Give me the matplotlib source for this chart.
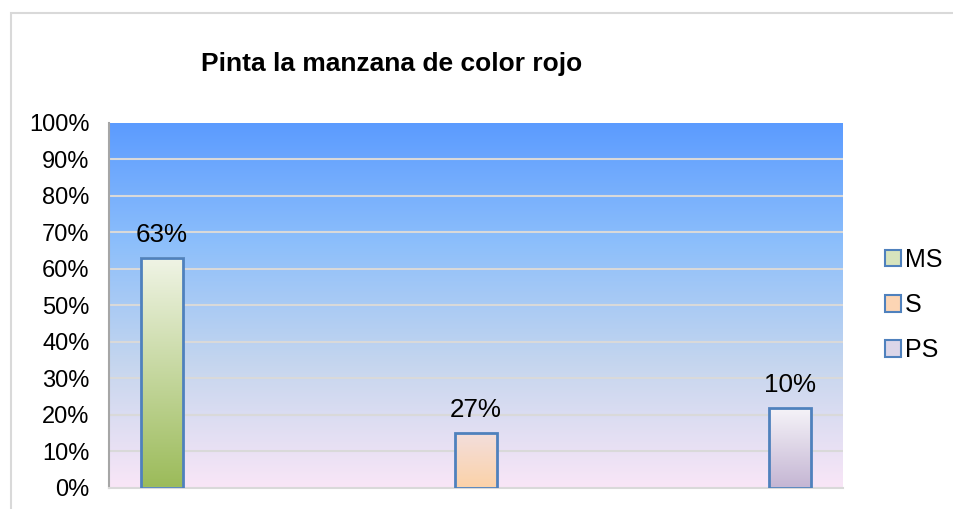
import numpy as np
import matplotlib
matplotlib.use("Agg")
import matplotlib.pyplot as plt
from matplotlib.colors import LinearSegmentedColormap
from matplotlib.patches import Rectangle, Patch

plt.rcParams['font.family'] = ['Liberation Sans', 'DejaVu Sans']

title = "Pinta la manzana de color rojo"
series = ["MS", "S", "PS"]
heights = [0.63, 0.15, 0.22]
labels = ["63%", "27%", "10%"]
ticks = [0, 0.1, 0.2, 0.3, 0.4, 0.5, 0.6, 0.7, 0.8, 0.9, 1.0]

# top -> bottom colours for each bar
bar_colors = [
    ("#F0F4E6", "#9BBB59"),
    ("#F3DEDC", "#FCD2A8"),
    ("#F6F4F9", "#C4B5D3"),
]
legend_colors = ["#D7E4BD", "#FCD5B4", "#DCD6E8"]
EDGE = "#4F81BD"

fig = plt.figure(figsize=(9.54, 5.09), dpi=100)
fig.patches.append(Rectangle((11 / 954, -0.01), 1.0, 1 - 13 / 509 + 0.01,
                             transform=fig.transFigure, fill=False,
                             edgecolor="#D9D9D9", lw=1.5))

ax = fig.add_axes([109 / 954, 1 - 488 / 509, (843 - 109) / 954, (488 - 122.5) / 509])
x = np.arange(len(series))
ax.set_xlim(-0.169, 2.169)
ax.set_ylim(0, 1)

# background gradient
bg = LinearSegmentedColormap.from_list("bg", ["#F9E6F7", "#C6D6EE", "#8DBFFB", "#5B9BFF"])
grad = np.linspace(0, 1, 256).reshape(-1, 1)
ax.imshow(grad, cmap=bg, origin="lower", aspect="auto",
          extent=(-0.169, 2.169, 0, 1), zorder=0)

for t in ticks[1:-1]:
    ax.axhline(t, color="#D9D9D9", lw=1.5, zorder=1)

bars = ax.bar(x, heights, width=0.134, facecolor="none", edgecolor=EDGE, lw=2, zorder=3)
for b, (top, bot) in zip(bars, bar_colors):
    cm = LinearSegmentedColormap.from_list("b", [bot, top])
    ax.imshow(grad, cmap=cm, origin="lower", aspect="auto",
              extent=(b.get_x(), b.get_x() + b.get_width(), 0, b.get_height()), zorder=2)

for b, lab in zip(bars, labels):
    ax.text(b.get_x() + b.get_width() / 2, b.get_height() + 0.03, lab,
            ha="center", va="bottom", fontsize=18.7)

ax.set_yticks(ticks)
ax.set_yticklabels([f"{int(round(t * 100))}%" for t in ticks], fontsize=17)
ax.set_xticks([])
ax.tick_params(axis="y", length=0, pad=14)
for s in ["top", "right"]:
    ax.spines[s].set_visible(False)
ax.spines["left"].set_color("#A6A6A6")
ax.spines["left"].set_linewidth(1.5)
ax.spines["bottom"].set_color("#D9D9D9")
ax.spines["bottom"].set_linewidth(1.5)

fig.text(392 / 954, 1 - 64 / 509, title, ha="center", va="center",
         fontsize=19, fontweight="bold")

handles = [Patch(facecolor=c, edgecolor=EDGE, lw=1.5) for c in legend_colors]
fig.legend(handles, series, loc="center left", bbox_to_anchor=(875 / 954, 1 - 305 / 509),
           frameon=False, fontsize=18, handlelength=0.65, handleheight=0.65,
           handletextpad=0.15, labelspacing=0.85, borderaxespad=0)

fig.savefig("out.png", dpi=100)
